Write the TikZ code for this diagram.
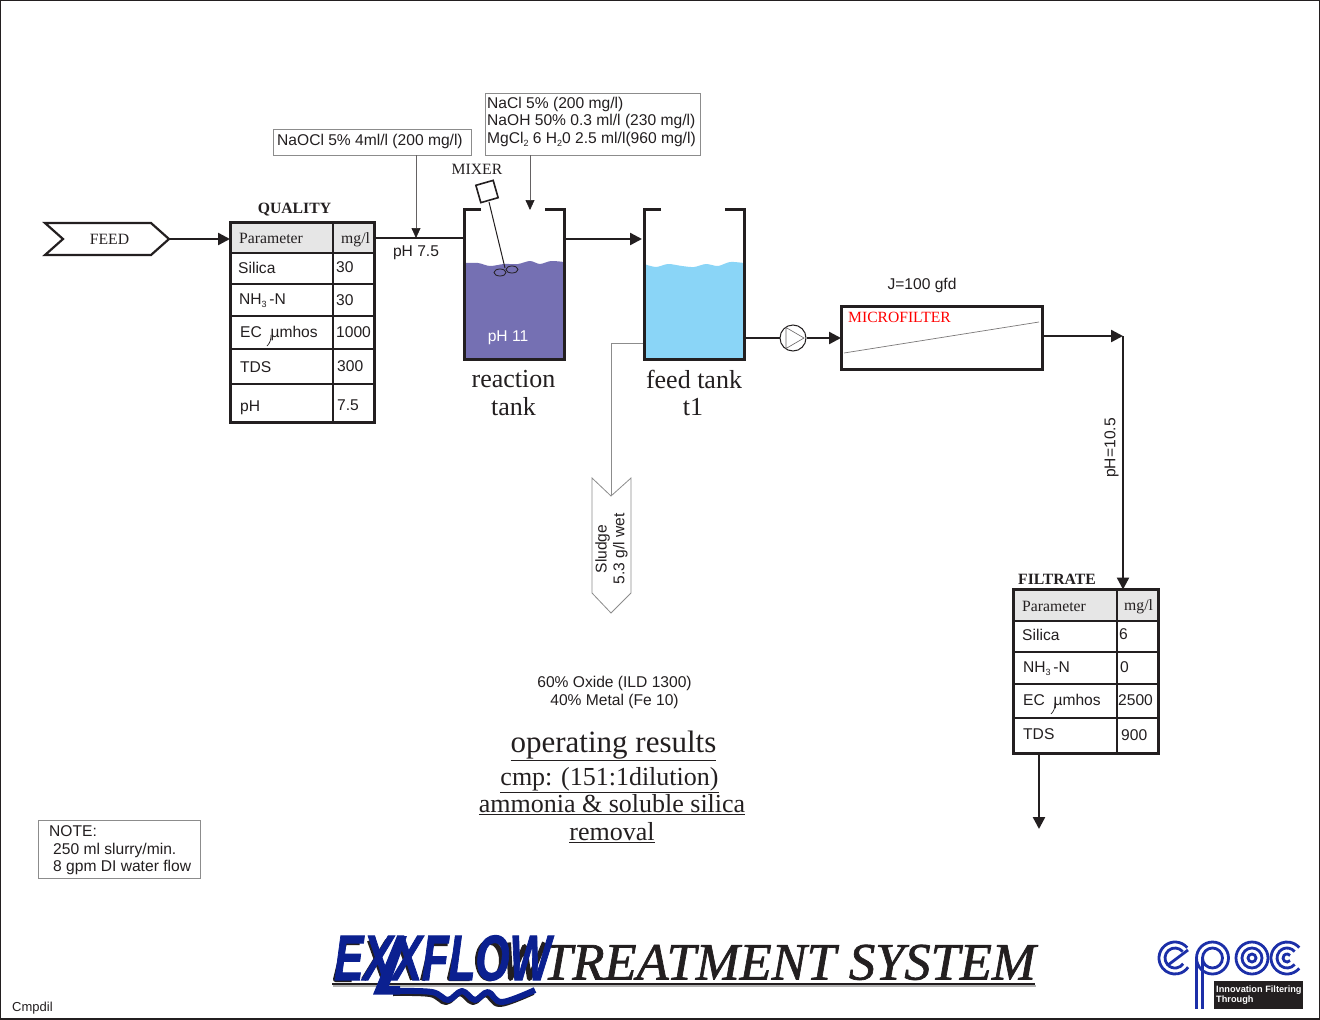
\documentclass[tikz,border=0pt]{standalone}
\usepackage{fontspec}
\setmainfont{Liberation Sans}
\newfontfamily\tms{Liberation Serif}
\newfontfamily\ttlf[ItalicFeatures={FakeBold=1.3}]{Liberation Serif}
\newfontfamily\lgf[BoldItalicFeatures={FakeBold=1.6}]{Liberation Sans}
\usetikzlibrary{arrows.meta,calc}
\newcommand{\fs}[1]{\fontsize{#1}{#1}\selectfont}
\newcommand{\lowr}[1]{\raisebox{-3pt}{\fontsize{9}{9}\selectfont #1}}
\definecolor{ink}{HTML}{231F20}
\definecolor{greyl}{HTML}{8C8C8C}
\definecolor{purp}{HTML}{7570B3}
\definecolor{sky}{HTML}{8AD5F7}
\definecolor{hdr}{HTML}{E6E6E6}
\definecolor{exblue}{HTML}{0B2090}
\definecolor{epblue}{HTML}{1C2FA8}
\tikzset{
 heavy/.style={draw=ink,line width=3pt},
 flow/.style={draw=ink,line width=2.4pt,-{Triangle[length=12pt,width=12pt]}},
 plainflow/.style={draw=ink,line width=2.4pt},
 rowline/.style={draw=ink,line width=2.4pt},
 thinline/.style={draw=greyl,line width=0.8pt},
 thinarrow/.style={draw=ink!70,line width=0.7pt,-{Triangle[length=10pt,width=9pt,color=ink]}},
 greybox/.style={draw=greyl,line width=0.8pt,fill=white,inner sep=0pt,outer sep=0pt},
 tbl/.style={draw=ink,line width=3pt,fill=none,inner sep=0pt,outer sep=0pt},
 sans/.style={inner sep=0pt,text=ink,font=\fs{15.6}},
 multi/.style={inner sep=0pt,text=ink,align=left,font=\fontsize{15.6}{17.6}\selectfont},
 cell/.style={sans,anchor=west},
 serif/.style={inner sep=0pt,text=ink,font=\tms\fs{15.7}},
 big/.style={inner sep=0pt,text=ink,font=\tms\fs{26},align=center},
 under/.style={inner sep=0pt,text=ink,font=\tms\fs{26}},
 band/.style={line width=6pt,line join=round},
 ring/.style={draw=epblue,line width=2.8pt},
 shade/.style={draw=ink,line width=5pt,line join=round},
}
\begin{document}
\begin{tikzpicture}[x=1pt,y=-1pt]
\useasboundingbox (0,0) rectangle (1320,1020);
\fill[white] (0,0) rectangle (1320,1020);
\draw[ink,line width=1.2pt] (0.6,1018) -- (0.6,0.6) -- (1319.2,0.6) -- (1319.2,1018);
\draw[ink,line width=2.4pt] (0,1018.8) -- (1320,1018.8);

% FEED
\draw[ink,line width=2.2pt] (45,223) -- (151,223) -- (169,239) -- (151,255) -- (45,255) -- (63,239) -- cycle;
\coordinate (feedtip) at (169,239);
\node[serif] (feedtxt) at (109.5,239) {FEED};

% Quality table
\fill[hdr] (230,222.5) rectangle (374,253);
\node[tbl,minimum width=144pt,minimum height=200pt,anchor=north west] (qual) at (230,222.5) {};
\foreach \yy in {253,284,316,349,384} \draw[rowline] (230,\yy) -- (374,\yy);
\draw[rowline] (333,222) -- (333,422);
\node[serif,font=\tms\bfseries\fs{15.7}] (qtitle) at (294.5,209.5) {QUALITY};
\node[serif,anchor=west] (q1) at (239,238) {Parameter};
\node[serif,anchor=west] (q2) at (341,239.5) {mg/l};
\node[cell] (q3) at (238,268) {Silica};
\node[cell] (q4) at (336,267) {30};
\node[cell] (q5) at (239,301) {NH\lowr{3}\,-N};
\node[cell] (q6) at (336,300) {30};
\node[cell] (q7) at (240,333) {EC \ µmhos};
\node[cell] (q8) at (336,332) {1000};
\node[cell] (q9) at (240,367) {TDS};
\node[cell] (q10) at (337,366) {300};
\node[cell] (q11) at (240,407.5) {pH};
\node[cell] (q12) at (337,405) {7.5};
\draw[ink,line width=0.7pt] (271,335) .. controls (271,340) and (270,343) .. (267,346);

% Reagent boxes
\node[greybox,minimum width=198pt,minimum height=26pt,anchor=north west] (naocl) at (273,129) {};
\node[sans,anchor=west] (naocltxt) at (277,141.5) {NaOCl 5\% 4ml/l (200 mg/l)};
\node[greybox,minimum width=215pt,minimum height=62pt,anchor=north west] (salts) at (485,93) {};
\node[multi,anchor=north west] (saltstxt) at (487,96.5) {NaCl 5\% (200 mg/l)\\NaOH 50\% 0.3 ml/l (230 mg/l)\\MgCl\lowr{2} 6 H\lowr{2}0 2.5 ml/l(960 mg/l)};
\coordinate (dose1) at (416,238);
\coordinate (dose2) at (530,210);
\draw[thinarrow] (naocl.south -| dose1) -- (dose1);
\draw[thinarrow] (salts.south -| dose2) -- (dose2);
\node[sans] (ph75) at (416,252.5) {pH 7.5};

% Reaction tank
\coordinate (rtin) at (464,238);
\coordinate (rtout) at (564,239);
\fill[purp] (464,359) -- plot[smooth] coordinates {(464,263) (478,263) (490,266) (504,264) (518,264) (530,261) (540,264) (551,261) (564,262)} -- (564,359) -- cycle;
\draw[heavy] (481,209) -- (464,209) -- (464,359) -- (564,359) -- (564,209) -- (545,209);
\draw[ink,line width=1pt] (489,202) -- (505,268);
\draw[ink,line width=1.6pt,fill=white,rotate around={16:(487,191.5)}] (478,182.5) rectangle (496,200.5);
\draw[ink,line width=0.8pt] (500,272.5) ellipse [x radius=6,y radius=3.5];
\draw[ink,line width=0.8pt] (512,269.5) ellipse [x radius=6,y radius=3.5];
\node[serif] (mixer) at (477,169) {MIXER};
\node[sans,text=white] (ph11) at (508,337.5) {pH 11};
\node[big] (rt1) at (513.5,379) {reaction};
\node[big] (rt2) at (513.5,407) {tank};

% Feed tank
\coordinate (ftin) at (642,239);
\fill[sky] (644,359) -- plot[smooth] coordinates {(644,264) (656,267) (668,264) (682,266) (694,267) (706,264) (718,266) (730,262) (744,263)} -- (744,359) -- cycle;
\draw[heavy] (661,209) -- (644,209) -- (644,359) -- (744,359) -- (744,209) -- (725,209);
\node[big] (ft1) at (694,379) {feed tank};
\node[big] (ft2) at (693,407) {t1};

% Sludge
\coordinate (sl) at (643,343);
\coordinate (sltop) at (611,496);
\draw[thinline] (sl) -- (611,343) -- (sltop);
\draw[thinline,fill=white] (592,478) -- (611,496) -- (631,478) -- (631,593) -- (611,613) -- (592,593) -- cycle;
\node[multi,rotate=90,align=center] (sludge) at (611.5,549) {Sludge\\5.3 g/l wet};

% Pump
\node[circle,draw=ink,line width=1pt,minimum size=26pt,inner sep=0pt] (pump) at (793,338) {};
\draw[ink!70,line width=0.6pt] (786,327.5) -- (804,338) -- (786,348.5) -- cycle;

% Microfilter
\node[draw=ink,line width=3pt,minimum width=201pt,minimum height=63pt,anchor=north west,inner sep=0pt,outer sep=0pt] (mf) at (841,306.5) {};
\draw[ink!60,line width=0.7pt] (844,353) -- (1039,322);
\node[inner sep=0pt,anchor=west,text=red,font=\tms\fs{15.6}] (mftxt) at (848,317) {MICROFILTER};
\node[sans] (jtxt) at (922,285) {J=100 gfd};

% Flow lines
\coordinate (corner) at (1123,336);
\draw[flow] (feedtip) -- (qual.west |- feedtip);
\draw[plainflow] (qual.east |- rtin) -- (rtin);
\draw[flow] (rtout) -- (ftin);
\draw[plainflow] (744,338) -- (pump.west);
\draw[flow] (pump.east) -- (mf.west |- pump.east);
\draw[flow] (mf.east |- corner) -- (corner);
\fill[hdr] (1013,589.5) rectangle (1158,621);
\node[tbl,minimum width=145pt,minimum height=164pt,anchor=north west] (filt) at (1013,589.5) {};
\draw[flow] (corner) -- (corner |- filt.north);
\coordinate (outlet) at (1039,829);
\draw[flow] (outlet |- filt.south) -- (outlet);
\node[sans,rotate=90] (ph105) at (1111.5,448) {pH=10.5};

% Filtrate table
\foreach \yy in {621,652,684,718} \draw[rowline] (1013,\yy) -- (1158,\yy);
\draw[rowline] (1117,589) -- (1117,753);
\node[serif,font=\tms\bfseries\fs{15.7}] (ftitle) at (1057,579.5) {FILTRATE};
\node[serif,anchor=west] (f1) at (1022,606) {Parameter};
\node[serif,anchor=west] (f2) at (1124,607) {mg/l};
\node[cell] (f3) at (1022,635) {Silica};
\node[cell] (f4) at (1119,634) {6};
\node[cell] (f5) at (1023,669) {NH\lowr{3}\,-N};
\node[cell] (f6) at (1120,667) {0};
\node[cell] (f7) at (1023,701) {EC \ µmhos};
\node[cell] (f8) at (1118,700) {2500};
\node[cell] (f9) at (1023,734) {TDS};
\node[cell] (f10) at (1121,735) {900};
\draw[ink,line width=0.7pt] (1055,703) .. controls (1055,708) and (1054,711) .. (1051,714);

% Centre text
\node[multi,align=center,font=\fontsize{15.6}{18}\selectfont] (oxide) at (614.5,692) {60\% Oxide (ILD 1300)\\40\% Metal (Fe 10)};
\node[under,font=\tms\fs{31}] (op) at (613.5,746) {\underline{operating results}};
\node[under] (cmp) at (609.5,780) {\underline{cmp: (151:1dilution)}};
\node[under] (amm) at (612,805) {\underline{ammonia \& soluble silica}};
\node[under] (rem) at (612,833) {\underline{removal}};

% Note
\node[greybox,minimum width=162pt,minimum height=58pt,anchor=north west] (note) at (38,820) {};
\node[multi,anchor=north west] (notetxt) at (49,825.5) {NOTE:\\\hspace*{4pt}250 ml slurry/min.\\\hspace*{4pt}8 gpm DI water flow};
\node[inner sep=0pt,anchor=west,text=ink,font=\fs{13}] (cmpdil) at (12,1008) {Cmpdil};

% Title and EXXFLOW logo
\draw[black!30,line width=1.4pt] (333,986) -- (1036,986);
\draw[ink,line width=1.8pt] (332,984) -- (1035,984);
\node[inner sep=0pt,anchor=base west,text=ink,font=\ttlf\itshape\fs{52.5}] (ttl) at (543,979.5) {TREATMENT SYSTEM};
\begin{scope}[shift={(-2.5,2.5)}]
 \draw[shade] (362,940) -- (347,940) -- (338,977) -- (354,977);
 \draw[shade] (343,957) -- (358,957);
 \draw[shade] (366,977) -- (390,938);
 \draw[shade] (372,938) -- (386,977);
 \draw[shade] (401,938) -- (415,977);
 \draw[shade] (450,941) -- (434,941) -- (425,978);
 \draw[shade] (429,958) -- (445,958);
 \draw[shade] (461,938) -- (452,976) -- (472,976);
 \draw[shade] (492,958) ellipse [x radius=12,y radius=18.5];
 \draw[shade] (511,940) -- (513,976) -- (527,944) -- (532,976) -- (547,940);
\end{scope}
\draw[ink,band] plot[smooth,tension=0.6] coordinates {(393,993) (430,994) (446,1002) (460,993) (473,1002) (486,994) (500,1004) (533,992)};
\draw[exblue,band] plot[smooth,tension=0.6] coordinates {(395,991) (432,992) (448,1000) (462,991) (475,1000) (488,992) (502,1002) (535,990)};
\fill[exblue] (397,936) -- (407,936) -- (389,986) -- (400,986) -- (400,994.5) -- (373,994.5) -- cycle;
\node[inner sep=0pt,anchor=base west,text=exblue,font=\lgf\bfseries\itshape\fs{64},xscale=0.685] (logo) at (334,980) {EXXFLOW};

% epoc logo
\foreach \r in {16,10,4}{
 \draw[ring] (1252,958) circle [radius=\r];
 \draw[ring] ($(1287,958)+(40:\r)$) arc [start angle=40,end angle=320,radius=\r];
}
\foreach \r in {16,10}{
 \draw[ring] (1212.5,958) circle [radius=\r];
 \draw[ring] ($(1175,958)+(-40:\r)$) arc [start angle=-40,end angle=-325,radius=\r];
}
\draw[ring] (1168,965) -- (1188,950);
\foreach \xx in {1196.5,1202.5} \draw[ring] (\xx,958) -- (\xx,1009);
\node[fill=ink,minimum width=89pt,minimum height=28pt,inner sep=0pt,outer sep=0pt,anchor=north west] (tag) at (1214,981) {};
\node[inner sep=0pt,anchor=west,text=white,align=left,font=\bfseries\fontsize{9.2}{9.4}\selectfont] (tagt) at (1216,995) {Innovation Filtering\\Through};
\end{tikzpicture}
\end{document}
